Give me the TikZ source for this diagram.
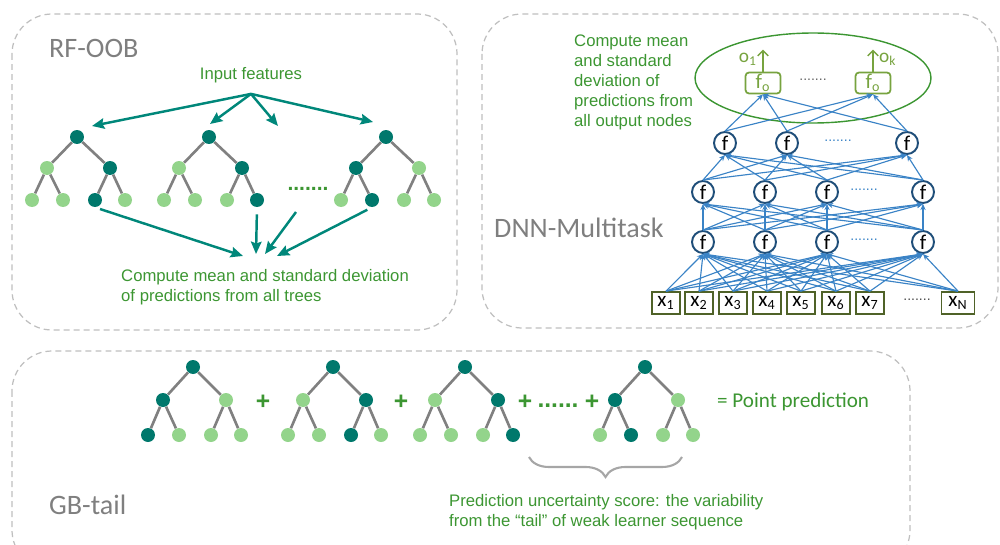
\documentclass[tikz,border=0pt]{standalone}
\usepackage{fontspec}
\setmainfont{Liberation Sans}
\newfontfamily\calib{Carlito}
\usepackage{xcolor}
\usetikzlibrary{arrows.meta, positioning, decorations.pathreplacing, shapes.geometric}

\definecolor{treedark}{HTML}{00786C}
\definecolor{treelight}{HTML}{93D48B}
\definecolor{treegray}{HTML}{808080}
\definecolor{arrteal}{HTML}{00877A}
\definecolor{txtgreen}{HTML}{3C9632}
\definecolor{panelgray}{HTML}{BFBFBF}
\definecolor{titlegray}{HTML}{7F7F7F}
\definecolor{netblue}{HTML}{3A83C6}
\definecolor{unitblue}{HTML}{1F4E79}
\definecolor{inolive}{HTML}{4F6228}
\definecolor{outolive}{HTML}{77A33F}
\definecolor{bracegray}{HTML}{A6A6A6}

\tikzset{
  dk/.style={circle, fill=treedark, minimum size=0.28cm, inner sep=0pt},
  lt/.style={circle, fill=treelight, minimum size=0.28cm, inner sep=0pt},
  branch/.style={draw=treegray, line width=1.5pt},
  panel/.style={draw=panelgray, line width=0.7pt, dash pattern=on 3.4pt off 2.3pt, rounded corners=0.8cm},
  title/.style={text=titlegray, font=\calib\fontsize{16}{19}\selectfont, anchor=west},
  note/.style={text=txtgreen, font=\fontsize{9.5}{11.4}\selectfont, align=left},
  feed/.style={draw=arrteal, line width=1.4pt, -{Stealth[length=7pt, width=6pt, inset=1pt]}},
  syn/.style={draw=netblue, line width=0.65pt, -{Stealth[length=3.5pt, width=3pt]}},
  unit/.style={circle, draw=unitblue, line width=1.1pt, fill=white, minimum size=0.44cm, inner sep=0pt, font=\calib\fontsize{12}{12}\selectfont},
  inbox/.style={draw=inolive, line width=1pt, fill=white, minimum width=0.56cm, minimum height=0.44cm, inner sep=0pt, font=\calib\fontsize{12}{12}\selectfont},
  outbox/.style={draw=outolive, line width=1pt, rounded corners=2pt, fill=white, minimum width=0.7cm, minimum height=0.42cm, inner sep=0pt, text=outolive, font=\calib\fontsize{12}{12}\selectfont},
  bluedots/.style={text=netblue, font=\fontsize{8}{8}\selectfont},
  plus/.style={text=txtgreen, font=\bfseries\fontsize{14}{14}\selectfont}
}

% level offsets of the small trees
\newcommand{\lvA}{31}
\newcommand{\lvB}{63}
% #1 name, #2 root position, #3-#9 styles of root, inner and leaf nodes
\newcommand{\mktree}[9]{%
  \begin{scope}[shift={#2}]
    \node[#3] (#1r) at (0,0) {};
    \node[#4] (#1a) at (-30,\lvA) {};
    \node[#5] (#1b) at (33,\lvA) {};
    \node[#6] (#1c) at (-45,\lvB) {};
    \node[#7] (#1d) at (-14,\lvB) {};
    \node[#8] (#1e) at (18,\lvB) {};
    \node[#9] (#1f) at (48,\lvB) {};
    \draw[branch] (#1r) -- (#1a) (#1r) -- (#1b) (#1a) -- (#1c) (#1a) -- (#1d) (#1b) -- (#1e) (#1b) -- (#1f);
  \end{scope}}

\begin{document}
\begin{tikzpicture}[x=0.02cm, y=-0.02cm]
    \useasboundingbox (0,0) rectangle (1000,544);
    \clip (0,0) rectangle (1000,544);

    % Panels
    \draw[panel] (12,14) rectangle (457,330);
    \draw[panel] (482,14) rectangle (998,328);
    \draw[panel] (12,351) rectangle (910,570);

    % ---------------- RF-OOB ----------------
    \node[title] (rftitle) at (43,48) {RF-OOB};
    \node[note, outer sep=3pt] (infeat) at (251,75) {Input features};

    \mktree{ra}{(77,137)}{dk}{lt}{dk}{lt}{lt}{dk}{lt}
    \mktree{rb}{(209,137)}{dk}{lt}{dk}{lt}{lt}{lt}{dk}
    \mktree{rc}{(386,137)}{dk}{dk}{lt}{lt}{dk}{lt}{lt}
    \node[text=txtgreen, font=\bfseries\fontsize{12}{12}\selectfont] (rdots) at (308,189) {.......};

    % arrows from the input features to the trees
    \coordinate (in1) at (92,126);
    \coordinate (in2) at (210,124);
    \coordinate (in3) at (278,126);
    \coordinate (in4) at (373,122);
    \draw[feed] (infeat.south) -- (in1);
    \draw[feed] (infeat.south) -- (in2);
    \draw[feed] (infeat.south) -- (in3);
    \draw[feed] (infeat.south) -- (in4);

    % arrows from the trees to the aggregate
    \coordinate (st3) at (296,212);
    \coordinate (m1) at (243,256);
    \coordinate (m2) at (256,254);
    \coordinate (m3) at (265,254);
    \coordinate (m4) at (277,256);
    \draw[feed, shorten <=3pt] (rae.south) -- (m1);
    \draw[feed, shorten <=4pt] (rbf.south) -- (m2);
    \draw[feed] (st3) -- (m3);
    \draw[feed, shorten <=3pt] (rcd.south) -- (m4);
    \node[note, anchor=west] (rfmean) at (115,287) {Compute mean and standard deviation\\of predictions from all trees};

    % ---------------- DNN-Multitask ----------------
    \node[title] (dnntitle) at (488,228) {DNN-Multitask};
    \node[note, anchor=west] (dnnmean) at (568,82) {Compute mean\\and standard\\deviation of\\predictions from\\all output nodes};
    \node[ellipse, draw=txtgreen, line width=0.8pt, minimum width=4.72cm, minimum height=1.8cm] (outgrp) at (813,78) {};

    % input layer
    \foreach \n/\xx in {1/666, 2/699, 3/733, 4/767, 5/801, 6/836, 7/870}
        \node[inbox] (x\n) at (\xx,303) {x\textsubscript{\n}};
    \node[inbox, minimum width=0.66cm] (x8) at (958,303) {x\textsubscript{N}};
    \node[text=black!70, font=\fontsize{8}{8}\selectfont] (xdots) at (917,300) {.......};

    % hidden layers
    \foreach \n/\xx in {1/703, 2/765, 3/827, 4/923} {
        \node[unit] (a\n) at (\xx,242) {f};
        \node[unit] (b\n) at (\xx,192) {f};
    }
    \foreach \n/\xx in {1/725, 2/787, 3/907}
        \node[unit] (c\n) at (\xx,143) {f};
    \node[bluedots] (adots) at (864,240) {.......};
    \node[bluedots] (bdots) at (864,190) {.......};
    \node[bluedots] (cdots) at (838,141) {.......};

    % output layer
    \node[outbox] (fo1) at (763,83) {f\textsubscript{o}};
    \node[outbox] (fo2) at (873,83) {f\textsubscript{o}};
    \node[text=black!60, font=\fontsize{8}{8}\selectfont] (fodots) at (813,80) {.......};
    \coordinate (o1) at ([yshift=0.44cm]fo1.north);
    \coordinate (ok) at ([yshift=0.44cm]fo2.north);
    \draw[draw=outolive, line width=0.8pt, -{Straight Barb[length=3pt]}] (fo1.north) -- (o1);
    \draw[draw=outolive, line width=0.8pt, -{Straight Barb[length=3pt]}] (fo2.north) -- (ok);
    \node[text=outolive, font=\calib\fontsize{11}{11}\selectfont, anchor=east] (o1lab) at (763,59) {o\textsubscript{1}};
    \node[text=outolive, font=\calib\fontsize{11}{11}\selectfont, anchor=west] (oklab) at (873,59) {o\textsubscript{k}};

    % connections
    \foreach \i in {1,...,8}
        \foreach \j in {1,...,4}
            \draw[syn] (x\i.north) -- (a\j.south);
    \foreach \i in {1,...,4}
        \foreach \j in {1,...,4}
            \draw[syn] (a\i.north) -- (b\j.south);
    \foreach \i in {1,...,4}
        \foreach \j in {1,...,3}
            \draw[syn] (b\i.north) -- (c\j.south);
    \foreach \i in {1,...,3}
        \foreach \j in {1,2}
            \draw[syn] (c\i.north) -- (fo\j.south);

    % ---------------- GB-tail ----------------
    \node[title] (gbtitle) at (43,505) {GB-tail};
    \renewcommand{\lvA}{33}
    \renewcommand{\lvB}{68}
    \mktree{ga}{(193,367)}{dk}{dk}{lt}{dk}{lt}{lt}{lt}
    \mktree{gb}{(333,367)}{dk}{lt}{dk}{lt}{lt}{dk}{lt}
    \mktree{gc}{(465,367)}{dk}{lt}{dk}{lt}{lt}{lt}{dk}
    \mktree{gd}{(645,367)}{dk}{dk}{lt}{lt}{dk}{lt}{lt}
    \node[plus] (p1) at (263,402) {+};
    \node[plus] (p2) at (401,402) {+};
    \node[plus] (p3) at (525,402) {+};
    \node[plus] (gdots) at (558,406) {......};
    \node[plus] (p4) at (592,402) {+};
    \node[text=txtgreen, font=\calib\fontsize{12}{14}\selectfont, anchor=west] (point) at (711,402) {= Point prediction};

    % brace under the tail of the sequence
    \coordinate (bl) at (529,457);
    \coordinate (br) at (682,457);
    \draw[draw=bracegray, line width=1.2pt, decorate, decoration={brace, mirror, amplitude=0.4cm}] (bl) -- (br);
    \node[note, anchor=west] (tailnote) at (443,512) {Prediction uncertainty score: the variability\\from the “tail” of weak learner sequence};
\end{tikzpicture}
\end{document}
